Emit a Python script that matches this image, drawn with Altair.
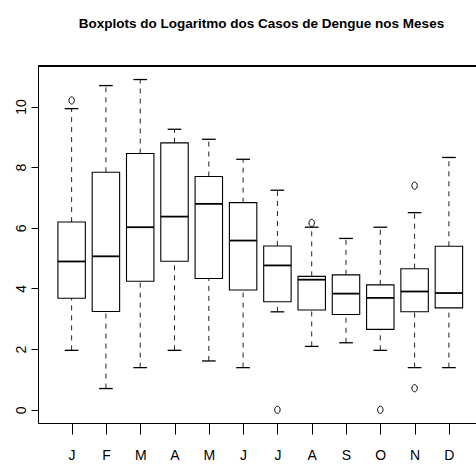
import altair as alt
import pandas as pd

# Monthly boxplot statistics of log(dengue cases)
months = ["J", "F", "M", "A", "M", "J", "J", "A", "S", "O", "N", "D"]
lower_whisker = [1.96, 0.70, 1.39, 1.96, 1.61, 1.39, 3.23, 2.09, 2.21, 1.96, 1.39, 1.39]
q1 = [3.68, 3.24, 4.24, 4.90, 4.33, 3.95, 3.56, 3.29, 3.14, 2.65, 3.23, 3.36]
median = [4.89, 5.06, 6.02, 6.37, 6.79, 5.58, 4.76, 4.29, 3.83, 3.69, 3.90, 3.85]
q3 = [6.19, 7.83, 8.45, 8.80, 7.69, 6.83, 5.40, 4.40, 4.45, 4.12, 4.65, 5.39]
upper_whisker = [9.93, 10.69, 10.89, 9.25, 8.92, 8.26, 7.24, 6.02, 5.65, 6.02, 6.50, 8.32]

# Outliers: month position (1-12) and value
outlier_pos = [1, 7, 8, 10, 11, 11]
outlier_val = [10.20, 0.00, 6.16, 0.00, 7.39, 0.71]

TITLE = "Boxplots do Logaritmo dos Casos de Dengue nos Meses"
FONT = "Liberation Sans, Arial, sans-serif"

BOX_HALF = 0.4      # half box width (boxwex 0.8)
CAP_HALF = 0.2      # half staple width
X_MIN, X_MAX = 0.02, 12.79
Y_MIN, Y_MAX = -0.436, 11.336

stats = pd.DataFrame({
    "pos": list(range(1, len(months) + 1)),
    "mes": months,
    "lo": lower_whisker,
    "q1": q1,
    "med": median,
    "q3": q3,
    "hi": upper_whisker,
})
outliers = pd.DataFrame({"pos": outlier_pos, "val": outlier_val})

xs = alt.Scale(domain=[X_MIN, X_MAX], nice=False, zero=False)
ys = alt.Scale(domain=[Y_MIN, Y_MAX], nice=False, zero=False)

label_array = "[" + ",".join("'" + m + "'" for m in months) + "]"

x_axis = alt.Axis(
    values=list(range(1, len(months) + 1)),
    labelExpr=label_array + "[datum.value - 1]",
    title=None, grid=False,
    tickSize=11, tickColor="black", domainColor="black",
    labelFont=FONT, labelFontSize=14, labelColor="black",
    labelPadding=14, labelAngle=0, labelFlush=False, labelOverlap=False,
)
y_axis = alt.Axis(
    values=[0, 2, 4, 6, 8, 10],
    title=None, grid=False,
    tickSize=7, tickColor="black", domainColor="black",
    labelFont=FONT, labelFontSize=14, labelColor="black",
    labelAngle=270, labelAlign="center", labelBaseline="alphabetic",
    labelPadding=6, labelFlush=False, labelOverlap=False,
)

base = alt.Chart(stats).transform_calculate(
    left=alt.datum.pos - BOX_HALF,
    right=alt.datum.pos + BOX_HALF,
    cap_l=alt.datum.pos - CAP_HALF,
    cap_r=alt.datum.pos + CAP_HALF,
)

upper_dash = base.mark_rule(color="#222", strokeWidth=1, strokeDash=[5, 5]).encode(
    x=alt.X("pos:Q", scale=xs, axis=x_axis),
    y=alt.Y("q3:Q", scale=ys, axis=y_axis),
    y2="hi:Q",
)
lower_dash = base.mark_rule(color="#222", strokeWidth=1, strokeDash=[5, 5]).encode(
    x=alt.X("pos:Q", scale=xs, axis=x_axis),
    y=alt.Y("lo:Q", scale=ys, axis=y_axis),
    y2="q1:Q",
)
upper_cap = base.mark_rule(color="black", strokeWidth=1.3).encode(
    x=alt.X("cap_l:Q", scale=xs, axis=x_axis),
    x2="cap_r:Q",
    y=alt.Y("hi:Q", scale=ys, axis=y_axis),
)
lower_cap = base.mark_rule(color="black", strokeWidth=1.3).encode(
    x=alt.X("cap_l:Q", scale=xs, axis=x_axis),
    x2="cap_r:Q",
    y=alt.Y("lo:Q", scale=ys, axis=y_axis),
)
boxes = base.mark_rect(fill="white", stroke="black", strokeWidth=1.1).encode(
    x=alt.X("left:Q", scale=xs, axis=x_axis),
    x2="right:Q",
    y=alt.Y("q1:Q", scale=ys, axis=y_axis),
    y2="q3:Q",
)
medians = base.mark_rule(color="black", strokeWidth=1.8).encode(
    x=alt.X("left:Q", scale=xs, axis=x_axis),
    x2="right:Q",
    y=alt.Y("med:Q", scale=ys, axis=y_axis),
)

# open elliptical points for outliers
ellipse = ("M -0.75 0 C -0.75 -0.55 -0.41 -1 0 -1 C 0.41 -1 0.75 -0.55 0.75 0 "
           "C 0.75 0.55 0.41 1 0 1 C -0.41 1 -0.75 0.55 -0.75 0 Z")
points = alt.Chart(outliers).mark_point(
    shape=ellipse, size=52, filled=False, color="black", strokeWidth=1, opacity=1
).encode(
    x=alt.X("pos:Q", scale=xs, axis=x_axis),
    y=alt.Y("val:Q", scale=ys, axis=y_axis),
)

top_frame = alt.Chart(stats).mark_rule(color="black", strokeWidth=1.2).encode(
    y=alt.value(0)
)

chart = alt.layer(
    upper_dash, lower_dash, boxes, medians, upper_cap, lower_cap, points, top_frame
).properties(
    width=438,
    height=357,
    title=alt.TitleParams(
        TITLE, font=FONT, fontSize=13.5, fontWeight="bold",
        color="black", anchor="middle", offset=35, dx=4.5,
    ),
    autosize=alt.AutoSizeParams(type="none"),
    padding={"left": 38, "top": 66, "right": 0, "bottom": 43},
).configure_view(stroke=None).configure(background="white")

chart.save("out.html", embed_options={"renderer": "svg", "actions": False})
